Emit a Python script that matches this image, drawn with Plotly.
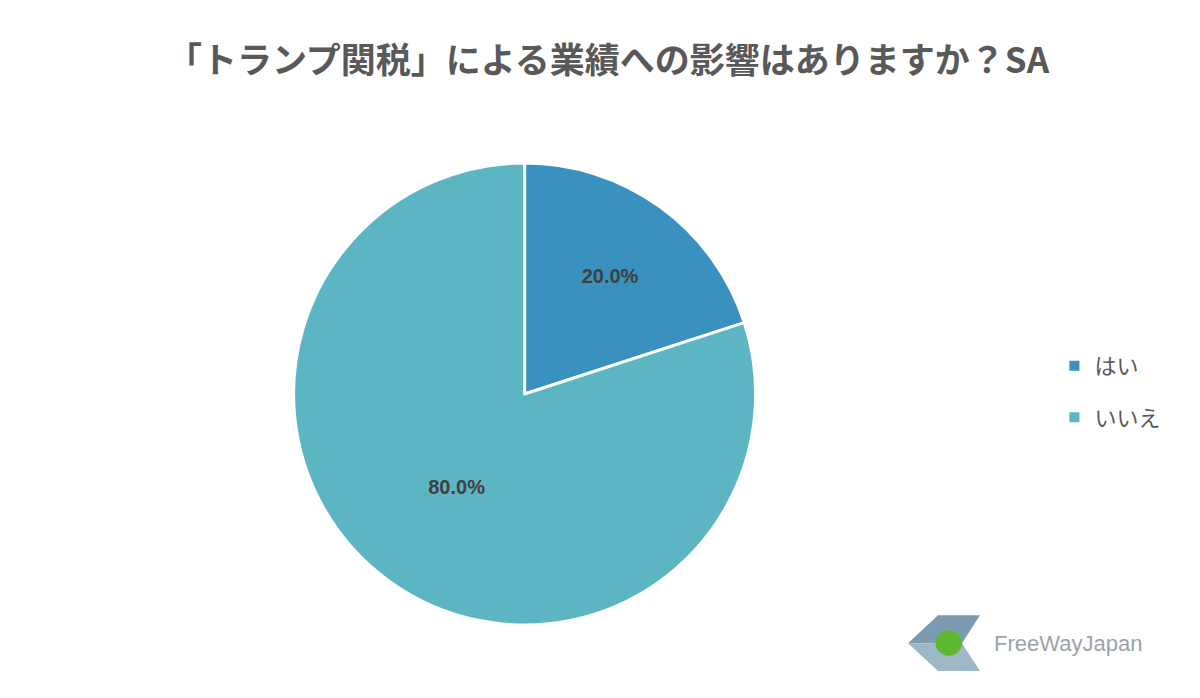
import plotly.graph_objects as go

labels = ["はい", "いいえ"]
values = [20.0, 80.0]
colors = ["#3891be", "#5cb5c2"]
title_text = "<b>「トランプ関税」による業績への影響はありますか？SA</b>"

fig = go.Figure()
fig.add_trace(go.Pie(
    labels=labels, values=values, sort=False, direction="clockwise", rotation=0,
    marker=dict(colors=colors, line=dict(color="white", width=3)),
    texttemplate="<b>%{percent:.1%}</b>", textposition="inside",
    textfont=dict(size=20, color="#404040", family="Liberation Sans"),
    insidetextorientation="horizontal", showlegend=False,
    domain=dict(x=[0.238, 0.623], y=[0.116, 0.778]),
))

# legend entries as separate groups so spacing can be controlled
for lab, col in zip(labels, colors):
    fig.add_trace(go.Scatter(
        x=[None], y=[None], mode="markers", name=lab, legendgroup=lab,
        marker=dict(symbol="square", size=10, color=col),
    ))

fig.update_xaxes(visible=False)
fig.update_yaxes(visible=False)

fig.update_layout(
    width=1200, height=698, margin=dict(l=0, r=0, t=0, b=0),
    paper_bgcolor="white", plot_bgcolor="white",
    font=dict(family="Noto Sans CJK JP"),
    title=dict(text=title_text, x=0.5, xanchor="center", y=0.925, yanchor="middle",
               font=dict(size=35, color="#595959", family="Noto Sans CJK JP")),
    legend=dict(x=0.872, y=0.45, xanchor="left", yanchor="middle",
                font=dict(size=22, color="#595959"), itemwidth=30,
                tracegroupgap=20),
)

# logo approximation
fig.add_shape(type="path", xref="paper", yref="paper",
              path="M 0.75 0.09 L 0.775 0.13 L 0.81 0.13 L 0.795 0.09 Z",
              fillcolor="#7d9bb0", line_width=0)
fig.add_shape(type="path", xref="paper", yref="paper",
              path="M 0.75 0.09 L 0.775 0.05 L 0.81 0.05 L 0.795 0.09 Z",
              fillcolor="#9fb8c8", line_width=0)
fig.add_shape(type="circle", xref="paper", yref="paper",
              x0=0.773, x1=0.795, y0=0.072, y1=0.108,
              fillcolor="#5cb82e", line_width=0)
fig.add_annotation(text="FreeWayJapan", xref="paper", yref="paper",
                   x=0.82, y=0.09, xanchor="left", yanchor="middle", showarrow=False,
                   font=dict(size=22, color="#9aa3aa", family="Liberation Sans"))

fig.write_html("out.html")
